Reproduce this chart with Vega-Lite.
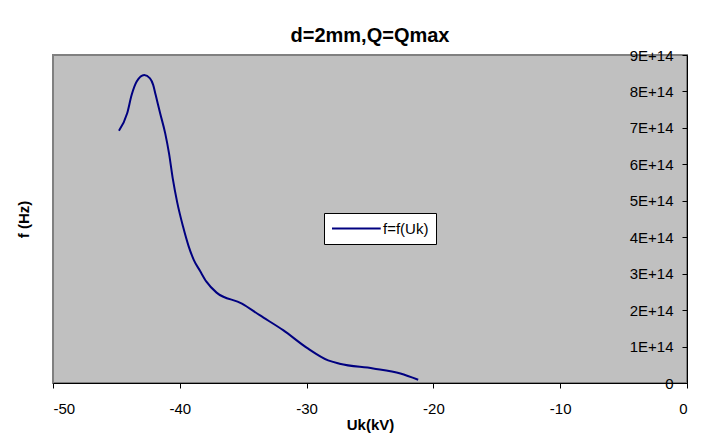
{
  "$schema": "https://vega.github.io/schema/vega-lite/v6.json",
  "width": 634,
  "height": 328,
  "autosize": {"type": "none"},
  "padding": {"left": 53, "top": 55, "right": 32, "bottom": 54},
  "background": "white",
  "title": {"text": "d=2mm,Q=Qmax", "fontSize": 20, "font": "Liberation Sans", "fontWeight": "bold", "anchor": "middle", "frame": "group", "offset": 2, "color": "black"},
  "config": {
    "view": {"fill": "#C0C0C0", "stroke": "#808080", "strokeWidth": 2},
    "font": "Liberation Sans"
  },
  "data": {"values": [
    {"Uk": -44.8, "f": 6.92e14},
    {"Uk": -44.15, "f": 7.40e14},
    {"Uk": -43.8, "f": 7.90e14},
    {"Uk": -43.4, "f": 8.27e14},
    {"Uk": -42.8, "f": 8.45e14},
    {"Uk": -42.35, "f": 8.36e14},
    {"Uk": -42.1, "f": 8.18e14},
    {"Uk": -41.9, "f": 7.90e14},
    {"Uk": -41.55, "f": 7.40e14},
    {"Uk": -41.15, "f": 6.85e14},
    {"Uk": -40.85, "f": 6.30e14},
    {"Uk": -40.55, "f": 5.60e14},
    {"Uk": -40.2, "f": 4.95e14},
    {"Uk": -39.75, "f": 4.30e14},
    {"Uk": -39.3, "f": 3.75e14},
    {"Uk": -38.9, "f": 3.38e14},
    {"Uk": -38.41, "f": 3.08e14},
    {"Uk": -37.9, "f": 2.78e14},
    {"Uk": -37.1, "f": 2.48e14},
    {"Uk": -35.1, "f": 2.18e14},
    {"Uk": -33.7, "f": 1.86e14},
    {"Uk": -31.85, "f": 1.45e14},
    {"Uk": -30.0, "f": 0.97e14},
    {"Uk": -28.3, "f": 0.62e14},
    {"Uk": -27.4, "f": 0.53e14},
    {"Uk": -24.75, "f": 0.40e14},
    {"Uk": -22.6, "f": 0.26e14},
    {"Uk": -21.2, "f": 0.09e14}
  ]},
  "layer": [
    {
      "mark": {"type": "line", "strokeWidth": 2, "interpolate": "monotone"},
      "encoding": {
        "x": {
          "field": "Uk", "type": "quantitative",
          "scale": {"domain": [-50, 0], "nice": false, "zero": false},
          "axis": {
            "values": [-50, -40, -30, -20, -10, 0], "grid": false,
            "labelExpr": "datum.value + ''",
            "domainColor": "black", "tickColor": "black", "tickSize": 5,
            "labelFontSize": 15, "labelColor": "black", "labelPadding": 13,
            "title": "Uk(kV)", "titleFontSize": 15, "titleFontWeight": "bold", "titleColor": "black", "titlePadding": 1
          }
        },
        "y": {
          "field": "f", "type": "quantitative",
          "scale": {"domain": [0, 9e14], "nice": false},
          "axis": {
            "orient": "left", "offset": -634, "title": null, "grid": false,
            "values": [0, 1e14, 2e14, 3e14, 4e14, 5e14, 6e14, 7e14, 8e14, 9e14],
            "labelExpr": "datum.value == 0 ? '0' : format(datum.value / 1e14, 'd') + 'E+14'",
            "domainColor": "black", "tickColor": "black", "tickSize": 5,
            "labelFontSize": 15, "labelColor": "black", "labelPadding": 9
          }
        },
        "color": {
          "datum": "f=f(Uk)", "type": "nominal",
          "scale": {"range": ["#000080"]},
          "legend": {
            "title": null, "orient": "none", "legendX": 271, "legendY": 158,
            "fillColor": "white", "strokeColor": "black", "padding": 7,
            "symbolType": "M-1,0H5.5", "symbolSize": 225, "symbolStrokeWidth": 2,
            "labelFontSize": 15, "labelColor": "black", "labelOffset": 35
          }
        }
      }
    },
    {
      "mark": {"type": "point", "opacity": 0},
      "encoding": {
        "x": {"field": "Uk", "type": "quantitative"},
        "y": {
          "field": "f", "type": "quantitative",
          "axis": {
            "orient": "left", "title": "f (Hz)", "labels": false, "ticks": false, "domain": false, "grid": false,
            "titleFontSize": 15, "titleFontWeight": "bold", "titleColor": "black", "titlePadding": 22
          }
        }
      }
    }
  ],
  "resolve": {"axis": {"y": "independent"}}
}
